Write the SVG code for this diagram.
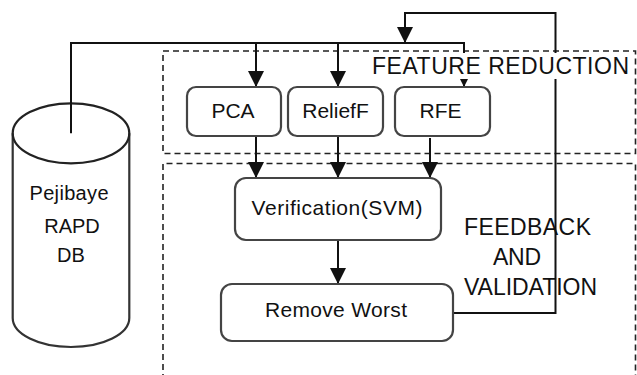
<svg xmlns="http://www.w3.org/2000/svg" width="637" height="375" viewBox="0 0 637 375">
  <defs>
    <marker id="arrow" markerUnits="userSpaceOnUse" markerWidth="16" markerHeight="16" refX="16" refY="8" orient="auto">
      <path d="M0,0 L16,8 L0,16 Z" fill="#111"/>
    </marker>
    <style>
      .conn { fill: none; stroke: #111; stroke-width: 2; }
      .region { fill: none; stroke: #222; stroke-width: 1.6; stroke-dasharray: 6 4; }
      .box { fill: #fff; stroke: #444; stroke-width: 2.2; }
      .label { font-family: "Liberation Sans", Arial, sans-serif; font-size: 21px; fill: #111; text-anchor: middle; }
      .db { font-family: "Liberation Sans", Arial, sans-serif; font-size: 20px; fill: #111; text-anchor: middle; }
      .section { font-family: "Liberation Sans", Arial, sans-serif; font-size: 23px; fill: #111; }
    </style>
  </defs>

  <rect x="0" y="0" width="637" height="375" fill="#fff"/>

  <!-- dashed region frames -->
  <g id="region-feature-reduction">
    <rect class="region" x="163" y="51" width="472.5" height="102.5"/>
  </g>
  <g id="region-feedback">
    <path class="region" d="M163,380 V163.5 H635.5 V380"/>
  </g>

  <!-- database cylinder: body, then the rim ellipse on top -->
  <g id="db">
    <path d="M12.7,133.3 V318 A58.3,29 0 0 0 129.3,318 V133.3" fill="#fff" stroke="#333" stroke-width="2.2"/>
    <ellipse cx="71" cy="133.3" rx="58.3" ry="30" fill="none" stroke="#222" stroke-width="2.2"/>
    <text class="db" x="69" y="200" textLength="79">Pejibaye</text>
    <text class="db" x="72" y="233">RAPD</text>
    <text class="db" x="71" y="262">DB</text>
  </g>

  <!-- connectors -->
  <g id="connectors">
    <path class="conn" d="M71,133.3 V43 H464 V87" marker-end="url(#arrow)"/>
    <path class="conn" d="M256,43 V87" marker-end="url(#arrow)"/>
    <path class="conn" d="M338,43 V87" marker-end="url(#arrow)"/>
    <path class="conn" d="M256,136 V178" marker-end="url(#arrow)"/>
    <path class="conn" d="M338,136 V178" marker-end="url(#arrow)"/>
    <path class="conn" d="M430,138 V178" marker-end="url(#arrow)"/>
    <path class="conn" d="M338,240 V284" marker-end="url(#arrow)"/>
    <path class="conn" d="M453,313 H555.5 V13 H405 V43" marker-end="url(#arrow)"/>
  </g>

  <g id="pca">
    <rect class="box" x="187" y="87" width="94" height="49" rx="9"/>
    <text class="label" x="233" y="118">PCA</text>
  </g>
  <g id="relieff">
    <rect class="box" x="288" y="87" width="95" height="49" rx="9"/>
    <text class="label" x="335.5" y="118">ReliefF</text>
  </g>
  <g id="rfe">
    <rect class="box" x="395" y="87" width="95" height="49" rx="9"/>
    <text class="label" x="440.5" y="118">RFE</text>
  </g>
  <g id="verification">
    <rect class="box" x="235" y="178" width="206" height="62" rx="11"/>
    <text class="label" x="337" y="215" textLength="171">Verification(SVM)</text>
  </g>
  <g id="remove-worst">
    <rect class="box" x="221" y="284" width="232" height="57" rx="11"/>
    <text class="label" x="336" y="317" textLength="142">Remove Worst</text>
  </g>

  <!-- region captions -->
  <g id="caption-feature-reduction">
    <rect x="368" y="53" width="263" height="26" fill="#fff"/>
    <text class="section" x="372" y="74" textLength="257">FEATURE REDUCTION</text>
  </g>
  <g id="caption-feedback">
    <text class="section" x="464" y="235" textLength="127">FEEDBACK</text>
    <text class="section" x="493" y="265" textLength="48">AND</text>
    <text class="section" x="464" y="295" textLength="133">VALIDATION</text>
  </g>
</svg>
